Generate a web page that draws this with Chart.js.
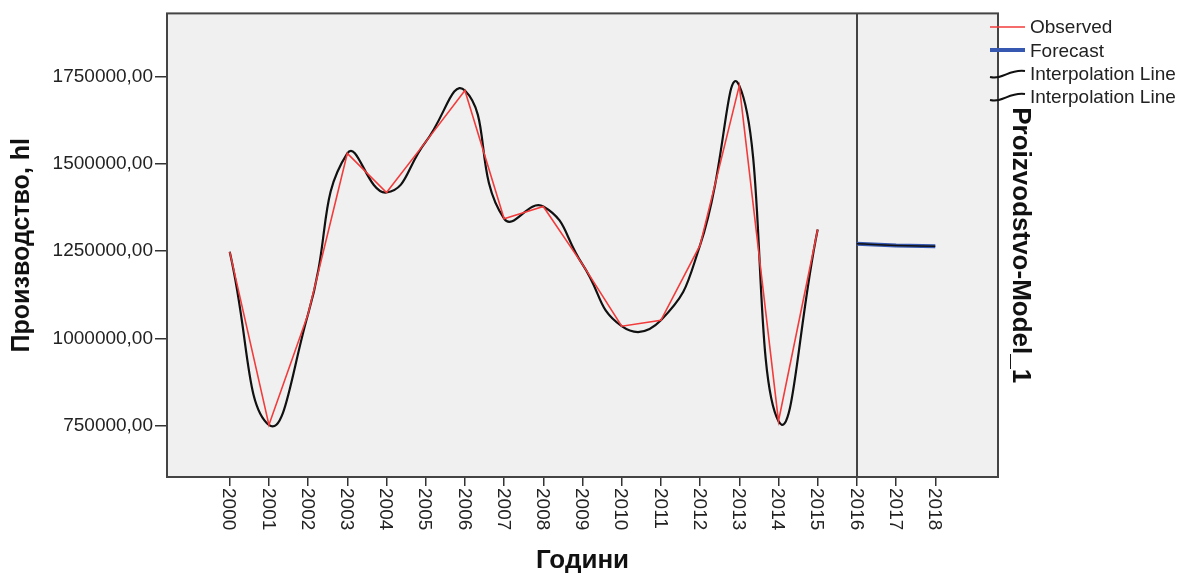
<!DOCTYPE html>
<html>
<head>
<meta charset="utf-8">
<title>Производство</title>
<script src="https://cdn.jsdelivr.net/npm/chart.js@4.4.1/dist/chart.umd.min.js"></script>
<style>
  html, body { margin: 0; padding: 0; background: #fff; }
  canvas { display: block; }
</style>
</head>
<body>
<canvas id="chart" width="1177" height="574"></canvas>
<script>
// ─── Données ───
const years      = [2000, 2001, 2002, 2003, 2004, 2005, 2006, 2007, 2008, 2009, 2010, 2011, 2012, 2013, 2014, 2015];
const observed   = [1248000, 752000, 1070000, 1530000, 1418000, 1563000, 1710000, 1343000, 1378000, 1212000, 1035000, 1052000, 1267000, 1724000, 763000, 1312000];
const fcYears    = [2016, 2017, 2018];
const forecast   = [1271000, 1266000, 1264000];
const xTickYears = [2000, 2001, 2002, 2003, 2004, 2005, 2006, 2007, 2008, 2009, 2010, 2011, 2012, 2013, 2014, 2015, 2016, 2017, 2018];
const yTicks     = [750000, 1000000, 1250000, 1500000, 1750000];
const splitYear  = 2016;

const FONT = "'Liberation Sans', Arial, sans-serif";
const RED = '#f23b3b';
const BLUE = '#3658b0';

const obsPts = years.map((y, i) => ({ x: y, y: observed[i] }));
const fcPts  = fcYears.map((y, i) => ({ x: y, y: forecast[i] }));

// ─── Fond + cadre de la zone de tracé ───
const plotFrame = {
  id: 'plotFrame',
  beforeDraw(chart) {
    const { ctx, chartArea: a } = chart;
    ctx.save();
    ctx.fillStyle = '#f0f0f0';
    ctx.fillRect(a.left, a.top, a.right - a.left, a.bottom - a.top);
    ctx.restore();
  },
  beforeDatasetsDraw(chart) {
    const { ctx, chartArea: a, scales } = chart;
    const x = Math.round(scales.x.getPixelForValue(splitYear));
    ctx.save();
    ctx.strokeStyle = '#444';
    ctx.lineWidth = 2;
    ctx.beginPath();
    ctx.moveTo(x, a.top);
    ctx.lineTo(x, a.bottom);
    ctx.stroke();
    ctx.restore();
  },
  afterDraw(chart) {
    const { ctx, chartArea: a, scales } = chart;
    ctx.save();
    ctx.strokeStyle = '#444';
    ctx.lineWidth = 2;
    ctx.strokeRect(a.left, a.top, a.right - a.left, a.bottom - a.top);

    // étiquettes de l'axe X, tournées dans le sens horaire
    ctx.fillStyle = '#222';
    ctx.font = '19px ' + FONT;
    ctx.textAlign = 'left';
    ctx.textBaseline = 'middle';
    scales.x.ticks.forEach(t => {
      const px = scales.x.getPixelForValue(t.value);
      ctx.save();
      ctx.translate(px - 1, a.bottom + 11);
      ctx.rotate(Math.PI / 2);
      ctx.fillText(String(t.value), 0, 0);
      ctx.restore();
    });
    ctx.restore();
  }
};

// ─── Légende (à droite) ───
const sideLegend = {
  id: 'sideLegend',
  afterDraw(chart) {
    const { ctx } = chart;
    const x0 = 990, x1 = 1025, tx = 1030;
    const items = [
      { text: 'Observed', y: 28, draw: (y) => line(RED, 1.5, y - 1) },
      { text: 'Forecast', y: 52, draw: (y) => line(BLUE, 4, y - 2) },
      { text: 'Interpolation Line', y: 75, draw: (y) => squiggle(y - 1) },
      { text: 'Interpolation Line', y: 98, draw: (y) => squiggle(y - 1) },
    ];
    function line(color, w, y) {
      ctx.strokeStyle = color;
      ctx.lineWidth = w;
      ctx.beginPath();
      ctx.moveTo(x0, y);
      ctx.lineTo(x1, y);
      ctx.stroke();
    }
    function squiggle(y) {
      ctx.strokeStyle = '#111';
      ctx.lineWidth = 2;
      ctx.beginPath();
      ctx.moveTo(x0, y + 3);
      ctx.bezierCurveTo(x0 + 14, y + 6, x0 + 18, y - 5, x1, y - 3);
      ctx.stroke();
    }
    ctx.save();
    ctx.font = '19px ' + FONT;
    ctx.textBaseline = 'middle';
    ctx.textAlign = 'left';
    items.forEach(it => {
      it.draw(it.y);
      ctx.fillStyle = '#222';
      ctx.fillText(it.text, tx, it.y);
    });
    ctx.restore();
  }
};

new Chart(document.getElementById('chart'), {
  type: 'line',
  data: {
    datasets: [
      {
        label: 'Observed',
        data: obsPts,
        borderColor: RED,
        borderWidth: 1.6,
        pointRadius: 0,
        tension: 0,
        order: 0,
      },
      {
        label: 'Interpolation Line',
        data: obsPts,
        borderColor: '#111',
        borderWidth: 2.2,
        pointRadius: 0,
        tension: 0.5,
        order: 1,
      },
      {
        label: 'Interpolation Line',
        data: fcPts,
        borderColor: '#111',
        borderWidth: 1.5,
        pointRadius: 0,
        tension: 0.5,
        order: 2,
      },
      {
        label: 'Forecast',
        data: fcPts,
        borderColor: BLUE,
        borderWidth: 4,
        pointRadius: 0,
        tension: 0,
        order: 3,
      },
    ]
  },
  options: {
    responsive: false,
    animation: false,
    layout: { padding: { top: 13, right: 135, bottom: 0, left: 0 } },
    plugins: {
      legend: { display: false },
      tooltip: { enabled: false },
    },
    scales: {
      x: {
        type: 'linear',
        min: 1998.4,
        max: 2019.6,
        afterBuildTicks: (s) => { s.ticks = xTickYears.map(v => ({ value: v })); },
        afterFit: (s) => { s.height = 97; },
        ticks: { display: false },
        grid: { drawOnChartArea: false, drawTicks: true, tickLength: 9, color: '#333', lineWidth: 1.5 },
        border: { display: false },
        title: {
          display: true,
          text: 'Години',
          color: '#111',
          font: { family: FONT, size: 26, weight: 'bold', lineHeight: 1 },
          padding: { top: 0, bottom: 0 },
        },
      },
      y: {
        type: 'linear',
        position: 'left',
        min: 603000,
        max: 1931000,
        afterBuildTicks: (s) => { s.ticks = yTicks.map(v => ({ value: v })); },
        afterFit: (s) => { s.width = 167; },
        ticks: {
          color: '#222',
          padding: 2,
          font: { family: FONT, size: 19 },
          callback: (v) => v + ',00',
        },
        grid: { drawOnChartArea: false, drawTicks: true, tickLength: 12, color: '#333', lineWidth: 1.5 },
        border: { display: false },
        title: {
          display: true,
          text: 'Производство, hl',
          color: '#111',
          font: { family: FONT, size: 25, weight: 'bold' },
          padding: { top: 7, bottom: 0 },
        },
      },
      y2: {
        type: 'linear',
        position: 'right',
        afterFit: (s) => { s.width = 44; },
        ticks: { display: false },
        grid: { display: false },
        border: { display: false },
        title: {
          display: true,
          text: 'Proizvodstvo-Model_1',
          color: '#111',
          font: { family: FONT, size: 26, weight: 'bold' },
          padding: { top: 6, bottom: 0 },
        },
      },
    },
  },
  plugins: [plotFrame, sideLegend],
});
</script>
</body>
</html>
